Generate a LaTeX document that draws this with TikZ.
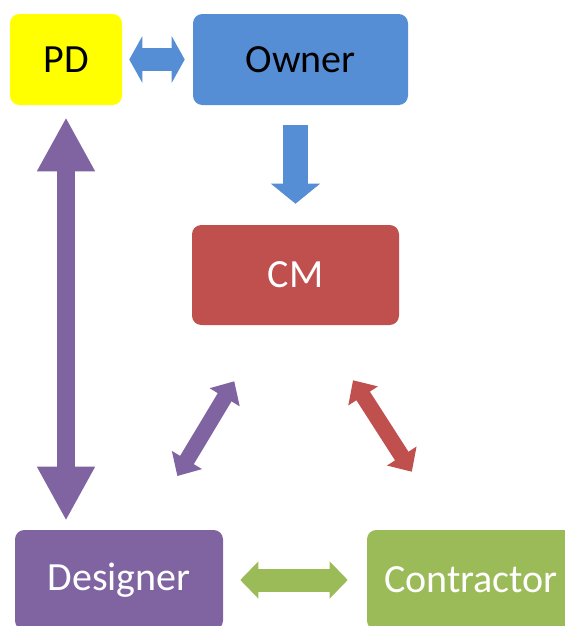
\documentclass[tikz,border=0pt]{standalone}
\usepackage{fontspec}
\setmainfont{Carlito}
\usepackage{tikz}
\usetikzlibrary{arrows.meta}
\usetikzlibrary{calc}
\definecolor{pdyellow}{HTML}{FFFF00}
\definecolor{ownerblue}{HTML}{558ED5}
\definecolor{cmred}{HTML}{C0504D}
\definecolor{designpurple}{HTML}{8064A2}
\definecolor{buildgreen}{HTML}{9BBB59}
\tikzset{
    party/.style={rounded corners=7pt, inner sep=0pt, font=\fontsize{30}{36}\selectfont},
    pdowner/.style={draw=ownerblue, line width=17.25pt,
        {Triangle[width=34.5pt,length=9.75pt]}-{Triangle[width=34.5pt,length=9.75pt]}},
    ownercm/.style={draw=ownerblue, line width=18.75pt,
        -{Triangle[width=36pt,length=15pt]}},
    pddesign/.style={draw=designpurple, line width=13.5pt,
        {Triangle[width=40.5pt,length=40.5pt]}-{Triangle[width=40.5pt,length=40.5pt]}},
    cmdesign/.style={draw=designpurple, line width=12pt,
        {Triangle[width=25.5pt,length=14pt]}-{Triangle[width=25.5pt,length=14pt]}},
    cmbuild/.style={draw=cmred, line width=12pt,
        {Triangle[width=25.5pt,length=14pt]}-{Triangle[width=25.5pt,length=14pt]}},
    designbuild/.style={draw=buildgreen, line width=17.25pt,
        {Triangle[width=27pt,length=13.5pt]}-{Triangle[width=27pt,length=13.5pt]}},
}

\begin{document}
\begin{tikzpicture}[x=0.75pt, y=-0.75pt]
\useasboundingbox (0,0) rectangle (565,626);
\clip (0,0) rectangle (565,626);
	\node[party, fill=pdyellow, minimum width=84pt, minimum height=68.25pt] (pd) at (66,59.5) {PD};
	\node[party, fill=ownerblue, minimum width=161.25pt, minimum height=68.25pt] (owner) at (300.5,59.5) {Owner};
	\node[party, fill=cmred, text=white, minimum width=155.25pt, minimum height=75pt] (cm) at (295.5,275) {CM};
	\node[party, fill=designpurple, text=white, minimum width=156pt, minimum height=75pt] (designer) at (119,580) {Designer};
	\node[party, fill=buildgreen, text=white, minimum width=156pt, minimum height=75pt] (contractor) at (471,580) {Contractor};
	% links
	\draw[pdowner, shorten <=5.25pt, shorten >=6pt] (pd.east) -- (owner.west);
	\draw[ownercm, shorten <=15pt, shorten >=15.75pt] (cm.north |- owner.south) -- (cm.north);
	\draw[pddesign, shorten <=9pt, shorten >=6.75pt] (pd.south) -- (pd.south |- designer.north);
	\draw[cmdesign, shorten <=49pt, shorten >=47pt]
		($(cm.south west)!0.367!(cm.south east)$) -- ($(designer.north west)!0.625!(designer.north east)$);
	\draw[cmbuild, shorten <=49pt, shorten >=51.7pt]
		($(cm.south west)!0.607!(cm.south east)$) -- ($(contractor.north west)!0.395!(contractor.north east)$);
	\draw[designbuild, shorten <=12.75pt, shorten >=14.25pt] (designer.east) -- (contractor.west);
\end{tikzpicture}
\end{document}
